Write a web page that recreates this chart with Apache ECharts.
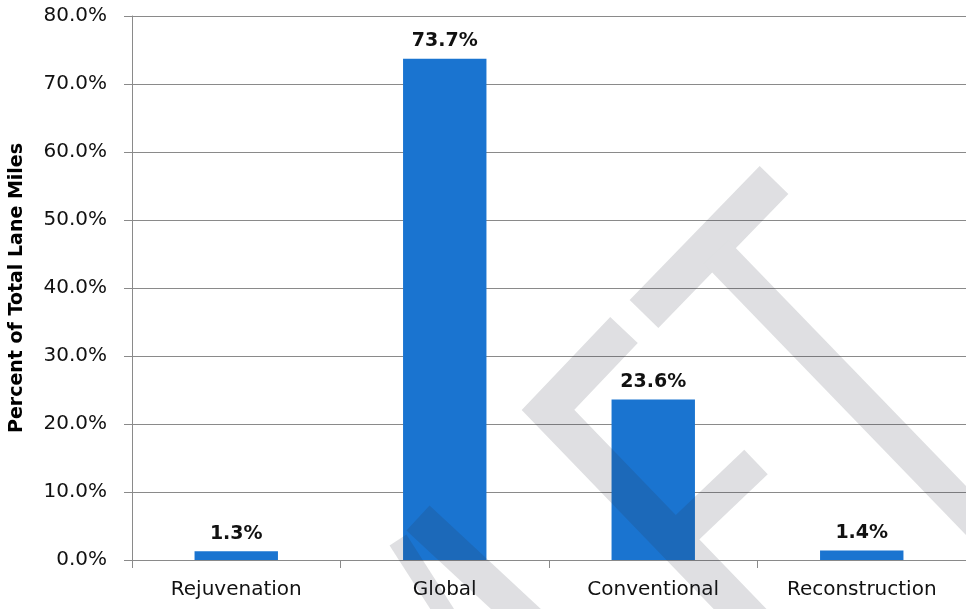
<!DOCTYPE html>
<html>
<head>
<meta charset="utf-8">
<script src="https://cdn.jsdelivr.net/npm/echarts@6/dist/echarts.min.js"></script>
<style>
html,body{margin:0;padding:0;background:#fff;}
#chart{width:966px;height:609px;}
</style>
</head>
<body>
<div id="chart"></div>
<script>
const categories = ['Rejuvenation', 'Global', 'Conventional', 'Reconstruction'];
const values = [1.3, 73.7, 23.6, 1.4];
const yTicks = [0, 10, 20, 30, 40, 50, 60, 70, 80];
const yAxisTitle = 'Percent of Total Lane Miles';

// decorative background watermark (not data)
function makeWatermark() {
  const c = document.createElement('canvas');
  c.width = 966; c.height = 609;
  const g = c.getContext('2d');
  g.strokeStyle = 'rgb(40,45,60)';
  g.lineCap = 'butt';
  g.lineJoin = 'miter';
  const paths = [
    { w: 40, p: [[774, 180], [644, 314]] },
    { w: 34, p: [[716, 252], [1010, 556]] },
    { w: 38, p: [[624, 330], [548, 410], [770, 640]] },
    { w: 34, p: [[756, 462], [672, 542]] },
    { w: 34, p: [[418, 518], [560, 650]] },
    { w: 20, p: [[398, 540], [462, 640]] }
  ];
  paths.forEach(o => {
    const p = o.p;
    g.lineWidth = o.w;
    g.beginPath();
    g.moveTo(p[0][0], p[0][1]);
    for (let i = 1; i < p.length; i++) g.lineTo(p[i][0], p[i][1]);
    g.stroke();
  });
  return c;
}

const chart = echarts.init(document.getElementById('chart'));
const font = 'DejaVu Sans';
chart.setOption({
  animation: false,
  grid: { left: 132, top: 16, bottom: 49, width: 844, containLabel: false },
  xAxis: {
    type: 'category',
    data: categories,
    axisLine: { show: true, lineStyle: { color: '#8a8a8a', width: 1 } },
    axisTick: { show: true, length: 8, lineStyle: { color: '#8a8a8a' } },
    axisLabel: { color: '#111', fontFamily: font, fontSize: 20, margin: 20, interval: 0 }
  },
  yAxis: {
    type: 'value',
    min: 0, max: 80, interval: 10,
    name: yAxisTitle,
    nameLocation: 'middle',
    nameGap: 105,
    nameTextStyle: { fontFamily: font, fontWeight: 'bold', fontSize: 19, color: '#000' },
    axisLine: { show: true, lineStyle: { color: '#8a8a8a', width: 1 } },
    axisTick: { show: true, length: 8, lineStyle: { color: '#8a8a8a' } },
    splitLine: { show: true, lineStyle: { color: '#8a8a8a', width: 1 } },
    axisLabel: {
      color: '#111', fontFamily: font, fontSize: 20, margin: 25,
      formatter: v => yTicks.includes(v) ? v.toFixed(1) + '%' : ''
    }
  },
  series: [{
    type: 'bar',
    data: values,
    barWidth: '40%',
    itemStyle: { color: '#1a74d0' },
    label: {
      show: true, position: 'top', distance: 8,
      fontFamily: font, fontWeight: 'bold', fontSize: 19, color: '#111',
      formatter: p => p.value.toFixed(1) + '%'
    }
  }],
  graphic: [{
    type: 'image', silent: true, z: 100,
    style: { image: makeWatermark(), x: 0, y: 0, width: 966, height: 609, opacity: 0.15 }
  }]
});
</script>
</body>
</html>
